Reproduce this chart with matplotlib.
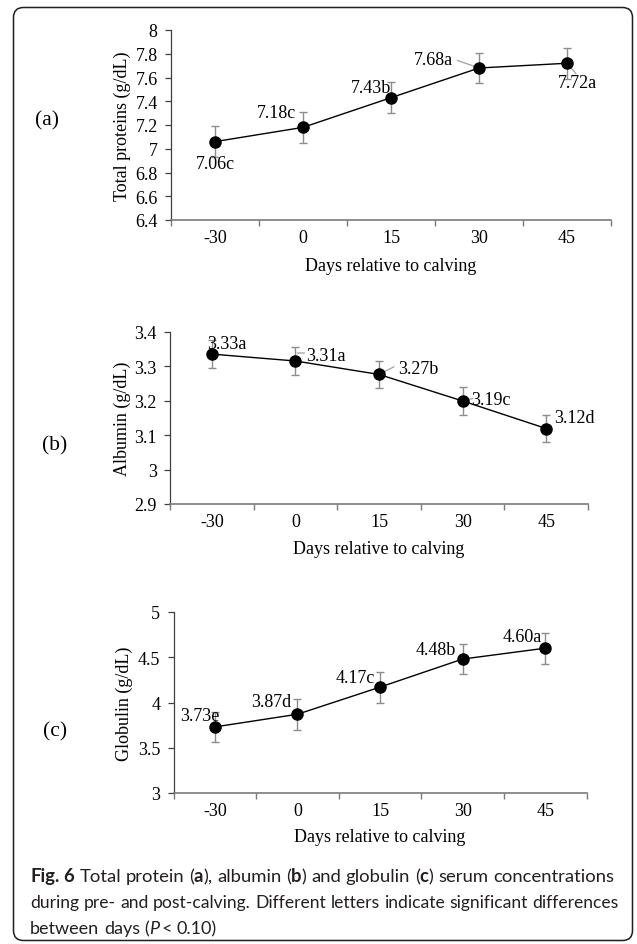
import matplotlib
matplotlib.use('Agg')
import matplotlib.pyplot as plt
from matplotlib.patches import FancyBboxPatch
from matplotlib.transforms import IdentityTransform, offset_copy
import numpy as np

# ---------------- data ----------------
days = ['-30', '0', '15', '30', '45']

tp_mean = [7.06, 7.18, 7.43, 7.68, 7.72]
tp_err = [0.13, 0.13, 0.13, 0.13, 0.13]
tp_labels = ['7.06c', '7.18c', '7.43b', '7.68a', '7.72a']

alb_mean = [3.335, 3.315, 3.276, 3.199, 3.119]
alb_err = [0.04, 0.04, 0.04, 0.04, 0.04]
alb_labels = ['3.33a', '3.31a', '3.27b', '3.19c', '3.12d']

glob_mean = [3.73, 3.87, 4.17, 4.48, 4.60]
glob_err = [0.17, 0.17, 0.17, 0.17, 0.17]
glob_labels = ['3.73e', '3.87d', '4.17c', '4.48b', '4.60a']

xlabel = 'Days relative to calving'

# ---------------- figure ----------------
W, H, DPI = 637, 945, 100
fig = plt.figure(figsize=(W / DPI, H / DPI), dpi=DPI)
fig.patch.set_facecolor('white')

SERIF = ['Liberation Serif', 'DejaVu Serif']
FS = 13


def add_axes_px(left, top, right, bottom):
    return fig.add_axes([left / W, 1 - bottom / H, (right - left) / W, (bottom - top) / H])


def fmt(v):
    s = f'{v:.2f}'.rstrip('0').rstrip('.')
    return s


def panel(box, mean, err, labels, ylim, ystep, ylabel, label_offs, leaders,
          ylab_x, xlab_y):
    ax = add_axes_px(*box)
    x = np.arange(len(days))
    ax.errorbar(x, mean, yerr=err, fmt='none', ecolor='#8c8c8c', elinewidth=1.0,
                capsize=2.6, capthick=1.0, zorder=2)
    ax.plot(x, mean, color='black', lw=1.0, marker='o', ms=8.0,
            mfc='black', mec='black', zorder=3)
    ax.set_xlim(-0.5, len(days) - 0.5)
    ax.set_ylim(*ylim)
    yt = np.arange(ylim[0], ylim[1] + ystep / 2, ystep)
    ax.set_yticks(yt)
    ax.set_yticklabels([fmt(v) for v in yt], fontsize=FS, family=SERIF)
    ax.set_xticks(np.arange(-0.5, len(days), 1.0))
    ax.set_xticklabels([])
    ax.set_xticks(x, minor=True)
    ax.set_xticklabels(days, minor=True, fontsize=FS, family=SERIF)
    ax.tick_params(axis='x', which='major', direction='out', length=4.3,
                   width=1.0, color='#7a7a7a')
    ax.tick_params(axis='x', which='minor', length=0, pad=6.8)
    ax.tick_params(axis='y', direction='out', length=4.1, width=0.9,
                   color='#404040', pad=5.5)
    for s in ['top', 'right']:
        ax.spines[s].set_visible(False)
    ax.spines['left'].set_color('#404040')
    ax.spines['left'].set_linewidth(0.9)
    ax.spines['bottom'].set_color('#7a7a7a')
    ax.spines['bottom'].set_linewidth(1.2)
    ax.set_xlabel(xlabel, fontsize=FS, family=SERIF)
    ax.xaxis.set_label_coords(0.5, xlab_y)
    ax.xaxis.label.set_va('center')
    ax.set_ylabel(ylabel, fontsize=FS, family=SERIF)
    ax.yaxis.set_label_coords(ylab_x, 0.5)
    ax.yaxis.label.set_va('center')
    for i, (lab, (dx, dy)) in enumerate(zip(labels, label_offs)):
        ax.annotate(lab, xy=(x[i], mean[i]), xytext=(dx, dy),
                    textcoords='offset pixels', ha='center', va='center',
                    fontsize=FS, family=SERIF, zorder=4)
    for i, (sx, sy), (ex, ey) in leaders:
        tr = offset_copy(ax.transData, fig=fig, x=ex, y=ey, units='dots')
        ax.annotate('', xy=(x[i], mean[i]), xycoords=tr,
                    xytext=(sx - ex, sy - ey), textcoords='offset pixels',
                    arrowprops=dict(arrowstyle='-', color='#a0a0a0', lw=0.9,
                                    shrinkA=0, shrinkB=0),
                    zorder=1.5)
    return ax


# (a) total proteins
panel((171, 31, 611, 221), tp_mean, tp_err, tp_labels, (6.4, 8.0), 0.2,
      'Total proteins (g/dL)',
      [(0, -22), (-26, 14.5), (-20, 10.5), (-46, 9), (10, -19.5)],
      [(3, (-21.6, 7.6), (0, 0)), (4, (9, -10.3), (0, 0))],
      ylab_x=-0.1114, xlab_y=-0.237)

# (b) albumin
panel((170, 332.7, 588, 505), alb_mean, alb_err, alb_labels, (2.9, 3.4), 0.1,
      'Albumin (g/dL)',
      [(14.6, 11), (30, 5), (39.4, 5.7), (28.3, 1.7), (28, 11)],
      [(1, (9, 8), (2, 8)), (2, (15, 7.7), (0, 0)), (3, (10, 2.4), (0, 0))],
      ylab_x=-0.1148, xlab_y=-0.261)

# (c) globulin
panel((173.5, 613, 586.5, 794), glob_mean, glob_err, glob_labels, (3.0, 5.0), 0.5,
      'Globulin (g/dL)',
      [(-15, 11), (-26.7, 12.3), (-25, 10), (-27, 9.3), (-23, 11.6)],
      [],
      ylab_x=-0.1199, xlab_y=-0.243)

# panel letters
for lab, px, py in [('(a)', 47, 120.7), ('(b)', 55, 445.7), ('(c)', 55.3, 731.7)]:
    fig.text(px / W, 1 - py / H, lab, fontsize=15.5, family=SERIF,
             ha='center', va='center')

# rounded frame
frame = FancyBboxPatch((13.5, H - 941.5), 619, 933,
                       boxstyle='round,pad=0,rounding_size=10',
                       transform=IdentityTransform(), fill=False,
                       ec='#231f20', lw=1.1)
fig.add_artist(frame)

# ---------------- caption ----------------
CAPFAM = ['Lato', 'DejaVu Sans']
CAPCOL = '#231f20'
fig.canvas.draw()
r = fig.canvas.get_renderer()


def text_w(s, size, weight='normal', style='normal'):
    t = fig.text(0, 0, s, fontsize=size, fontweight=weight, fontstyle=style,
                 family=CAPFAM)
    w = t.get_window_extent(renderer=r).width
    t.remove()
    return w


def space_w(size, weight='normal'):
    return text_w('a a', size, weight) - text_w('aa', size, weight)


def words(s, wt='normal', st='normal'):
    out = []
    for k, wd in enumerate(s.split(' ')):
        if k:
            out.append((' ', wt, 'normal'))
        out.append((wd, wt, st))
    return out


line1 = (words('Fig. 6', 'bold') + [(' ', 'normal', 'normal')]
         + words('Total protein (') + [('a', 'bold', 'normal')]
         + words('), albumin (') + [('b', 'bold', 'normal')]
         + words(') and globulin (') + [('c', 'bold', 'normal')]
         + words(') serum concentrations'))
line2 = words('during pre- and post-calving. Different letters indicate significant differences')
line3 = (words('between days (') + [('P', 'normal', 'italic'), ('\u2009', 'normal', 'normal')]
         + words('< 0.10)'))


def seg_width(segs, size):
    w = 0
    for s, wt, st in segs:
        if s == ' ':
            w += space_w(size, wt)
        elif s == '\u2009':
            w += space_w(size) * 0.5
        elif s:
            w += text_w(s, size, wt, st)
    return w


base = 10.0
size1 = base * 584.0 / seg_width(line1, base)
size2 = base * 587.0 / seg_width(line2, base)
size3 = 0.5 * (size1 + size2)


def draw_line(segs, x0, y, size):
    x = x0
    for s, wt, st in segs:
        if s == ' ':
            x += space_w(size, wt)
            continue
        if s == '\u2009':
            x += space_w(size) * 0.5
            continue
        if not s:
            continue
        fig.text(x / W, 1 - y / H, s, fontsize=size, fontweight=wt,
                 fontstyle=st, family=CAPFAM, color=CAPCOL,
                 ha='left', va='baseline')
        x += text_w(s, size, wt, st)


draw_line(line1, 30, 882, size1)
draw_line(line2, 30, 908, size2)
draw_line(line3, 30, 934, size3)

fig.savefig('out.png', dpi=DPI, facecolor='white')
